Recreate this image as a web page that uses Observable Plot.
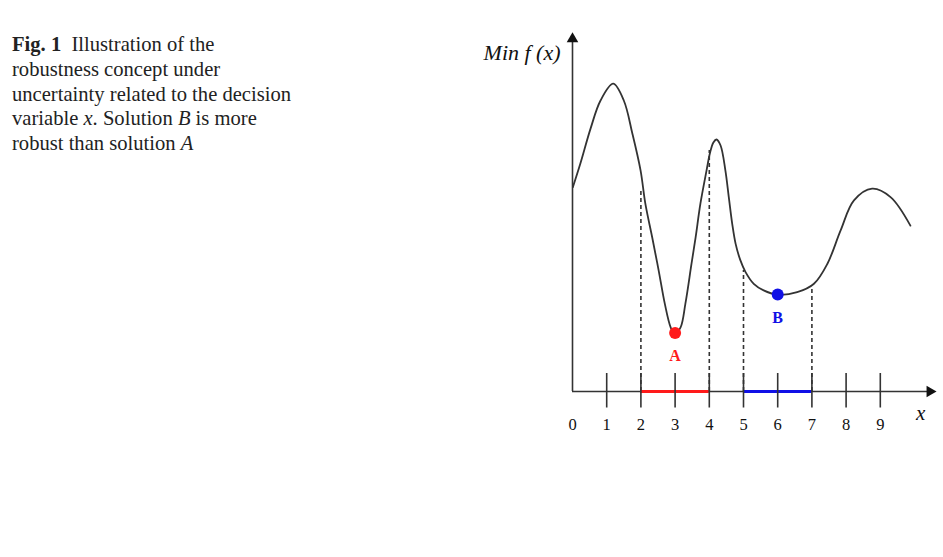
<!DOCTYPE html>
<html>
<head>
<meta charset="utf-8">
<script src="https://cdn.jsdelivr.net/npm/d3@7"></script>
<script src="https://cdn.jsdelivr.net/npm/@observablehq/plot@0.6"></script>
<style>
  html, body { margin: 0; padding: 0; background: #fff; }
  #wrap { position: relative; width: 943px; height: 557px; }
  #caption {
    position: absolute; left: 12px; top: 32px; width: 320px;
    font-family: "Liberation Serif", "DejaVu Serif", serif;
    font-size: 20.6px; line-height: 24.8px; color: #222;
  }
  #chart { position: absolute; left: 0; top: 0; }
</style>
</head>
<body>
<div id="wrap">
  <div id="chart"></div>
  <div id="caption"><b>Fig. 1</b>&nbsp; Illustration of the<br>robustness concept under<br>uncertainty related to the decision<br>variable <i>x</i>. Solution <i>B</i> is more<br>robust than solution <i>A</i></div>
</div>
<script>
// Curve of f(x)
const curveX = [0.01, 0.23, 0.53, 0.82, 1.19, 1.50, 1.75, 1.99, 2.13, 2.33, 2.52, 2.70, 2.87, 2.99, 3.16, 3.30, 3.48, 3.60, 3.74, 3.92, 4.02, 4.12, 4.21, 4.33, 4.47, 4.57, 4.67, 4.77, 4.91, 5.06, 5.30, 5.59, 5.98, 6.57, 7.06, 7.45, 7.84, 8.23, 8.76, 9.30, 9.88];
const curveY = [6.81, 7.60, 8.77, 9.70, 10.26, 9.70, 8.60, 7.37, 6.26, 5.14, 4.03, 2.92, 2.14, 1.92, 2.14, 2.92, 4.26, 5.14, 6.26, 7.37, 7.95, 8.30, 8.40, 8.20, 7.37, 6.48, 5.59, 4.92, 4.37, 3.98, 3.59, 3.37, 3.23, 3.31, 3.59, 4.25, 5.37, 6.37, 6.76, 6.48, 5.53];

// Axis ticks and labels
const tickValues = [1, 2, 3, 4, 5, 6, 7, 8, 9];
const tickLabels = ["0", "1", "2", "3", "4", "5", "6", "7", "8", "9"];

// Solutions
const solNames = ["A", "B"];
const solX = [3, 6];
const solY = [1.95, 3.23];
const solColors = ["#ff1a1a", "#1010e6"];
const solLo = [2, 5];
const solHi = [4, 7];

// Dashed guide lines (x, height where they meet the curve)
const guideX = [2, 4, 5, 7];
const guideTop = [6.77, 8.03, 4.03, 3.48];

const curve = curveX.map((x, i) => ({x, y: curveY[i]}));
const sols = solNames.map((n, i) => ({name: n, x: solX[i], y: solY[i], color: solColors[i], lo: solLo[i], hi: solHi[i]}));
const guides = guideX.map((x, i) => ({x, top: guideTop[i]}));
const labels = tickLabels.map((t, i) => ({x: i, t}));

const serif = "Liberation Serif, DejaVu Serif, serif";
const ink = "#333";

const chart = Plot.plot({
  width: 943,
  height: 557,
  marginLeft: 572,
  marginRight: 29,
  marginTop: 31,
  marginBottom: 166,
  x: {domain: [0, 10], axis: null},
  y: {domain: [0, 12], axis: null},
  marks: [
    // dashed guides
    Plot.ruleX(guides, {x: "x", y1: 0, y2: "top", stroke: ink, strokeWidth: 1.6, strokeDasharray: "4,3"}),
    // curve
    Plot.line(curve, {x: "x", y: "y", curve: "catmull-rom", stroke: ink, strokeWidth: 1.8}),
    // axes
    Plot.ruleY([0], {x1: 0, x2: 10.45, stroke: ink, strokeWidth: 1.6}),
    Plot.ruleX([0], {y1: 0, y2: 11.75, stroke: ink, strokeWidth: 1.6}),
    Plot.dot([{x: 10.45, y: 0}], {x: "x", y: "y", symbol: "triangle", r: 4.3, rotate: 90, fill: "#111", stroke: null}),
    Plot.dot([{x: 0, y: 11.75}], {x: "x", y: "y", symbol: "triangle", r: 4.3, fill: "#111", stroke: null}),
    // intervals
    Plot.ruleY(sols, {y: 0, x1: "lo", x2: "hi", stroke: "color", strokeWidth: 3}),
    // ticks
    Plot.ruleX(tickValues, {x: d => d, y1: -0.55, y2: 0.6, stroke: ink, strokeWidth: 1.6}),
    // tick labels
    Plot.text(labels, {x: "x", y: -1.1, text: "t", fontFamily: serif, fontSize: 16.5, fill: "#111"}),
    // solution points
    Plot.dot(sols, {x: "x", y: "y", r: 6, fill: "color", stroke: null}),
    Plot.text(sols, {x: "x", y: "y", text: "name", dy: 23, fill: "color", fontFamily: serif, fontSize: 16, fontWeight: "bold"}),
    // axis titles
    Plot.text(["Min f (x)"], {x: -0.35, y: 11.27, text: d => d, textAnchor: "end", fontFamily: serif, fontStyle: "italic", fontSize: 22, fill: "#111"}),
    Plot.text(["x"], {x: 10.18, y: -0.73, text: d => d, fontFamily: serif, fontStyle: "italic", fontSize: 21, fill: "#111"})
  ]
});
document.getElementById("chart").appendChild(chart);
</script>
</body>
</html>
